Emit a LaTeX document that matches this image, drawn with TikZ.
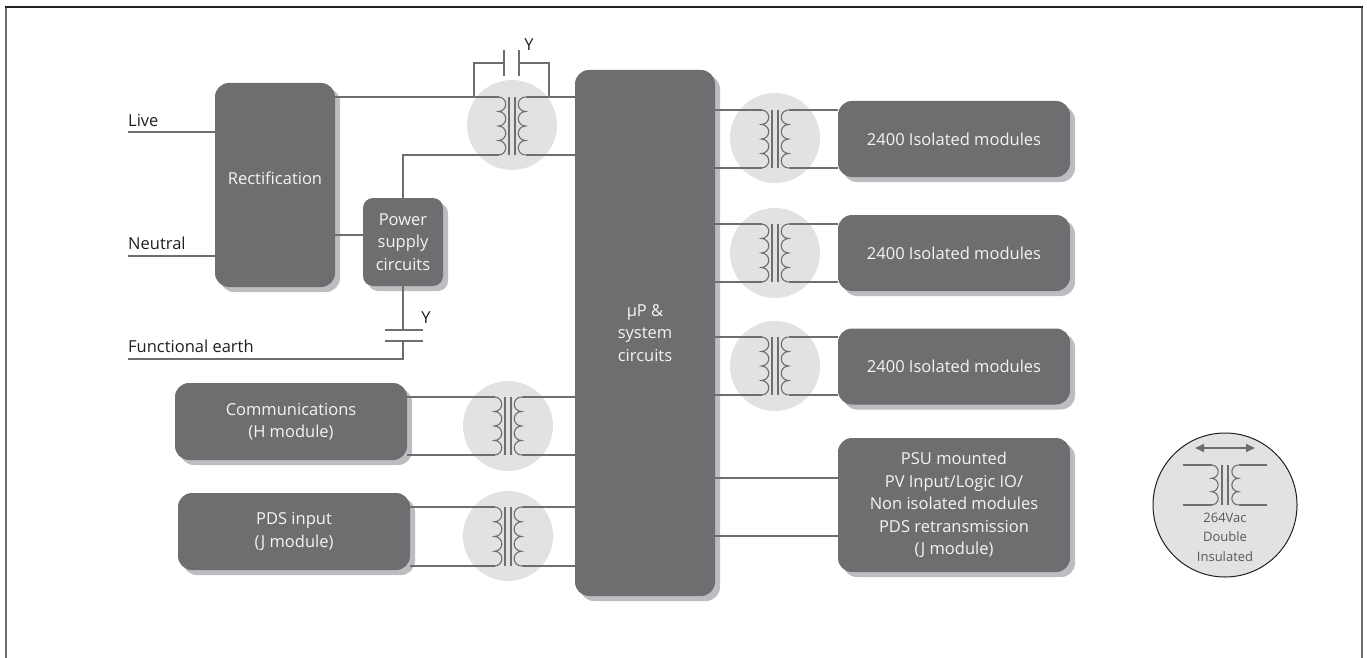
\documentclass[tikz,border=0pt]{standalone}
\usepackage{fontspec}
\setmainfont{Open Sans}
\usetikzlibrary{shadows,arrows.meta}
\definecolor{boxgray}{HTML}{6D6E70}
\definecolor{shadowgray}{HTML}{BCBDC0}
\definecolor{circgray}{HTML}{E1E2E3}
\definecolor{wiregray}{HTML}{6D6E70}
\definecolor{textdark}{HTML}{231F20}
\definecolor{boxtext}{HTML}{F4F4F4}
\definecolor{legtext}{HTML}{58595B}
\newcommand{\xformer}[5]{%
  \pgfmathsetmacro\XFh{(#4-#3)/#5}%
  \pgfmathsetmacro\XFr{\XFh/2}%
  \coordinate (#1-lt) at (#2-13.5,#3);
  \coordinate (#1-lb) at (#2-13.5,#4);
  \coordinate (#1-rt) at (#2+13.5,#3);
  \coordinate (#1-rb) at (#2+13.5,#4);
  \draw[coil] (#1-lt) \foreach \k in {1,...,#5}{ arc[start angle=-90,end angle=90,radius=\XFr] };
  \draw[coil] (#1-rt) \foreach \k in {1,...,#5}{ arc[start angle=270,end angle=90,radius=\XFr] };
  \draw[coil] (#2-3,#3) -- (#2-3,#4) (#2+3,#3) -- (#2+3,#4);
}
\begin{document}
\begin{tikzpicture}[x=1pt,y=-1pt,
  blk/.style={fill=boxgray, rounded corners=14pt,
    general shadow={fill=shadowgray, shadow xshift=5pt, shadow yshift=-5pt},
    text=boxtext, font=\fontsize{16.5}{22.5}\selectfont, align=center, inner sep=0pt},
  wire/.style={draw=wiregray, line width=1.4pt},
  coil/.style={draw=wiregray, line width=1.1pt},
  ring/.style={circle, fill=circgray, minimum size=90pt, inner sep=0pt},
  lbl/.style={text=textdark, font=\fontsize{16.5}{20}\selectfont, inner sep=0pt}]
\useasboundingbox (0,0) rectangle (1367,658);
% frame
\draw[draw=wiregray, line width=2pt] (6,658) -- (6,7);
\draw[draw=wiregray, line width=2pt] (1362,7) -- (1362,658);
\draw[draw=textdark, line width=1.6pt] (5,7) -- (1363,7);

% transformer rings
\node[ring] (r1) at (512,125) {};
\node[ring] (r2) at (508,426) {};
\node[ring] (r3) at (508,536) {};
\node[ring] (r4) at (775,138) {};
\node[ring] (r5) at (775,253) {};
\node[ring] (r6) at (775,366) {};

% boxes
\node[blk, minimum width=120pt, minimum height=204pt, text depth=14pt] (rect) at (275,185) {Rectification};
\node[blk, rounded corners=10pt, minimum width=80pt, minimum height=88pt] (psu) at (403,242) {Power\\supply\\circuits};
\node[blk, minimum width=140pt, minimum height=526pt] (mp) at (645,333) {µP \&\\system\\circuits};
\node[blk, minimum width=232pt, minimum height=77pt] (comms) at (291,421.5) {Communications\\(H module)};
\node[blk, minimum width=232pt, minimum height=77pt] (pds) at (294,531.5) {PDS input\\(J module)};
\node[blk, minimum width=232pt, minimum height=76pt] (mod1) at (954,139) {2400 Isolated modules};
\node[blk, minimum width=232pt, minimum height=76pt] (mod2) at (954,253) {2400 Isolated modules};
\node[blk, minimum width=232pt, minimum height=76pt] (mod3) at (954,366.5) {2400 Isolated modules};
\node[blk, minimum width=232pt, minimum height=134pt] (psum) at (954,505) {PSU mounted\\PV Input/Logic IO/\\Non isolated modules\\PDS retransmission\\(J module)};

% transformers
\xformer{x1}{512}{97}{155}{4}
\xformer{x2}{508}{397}{455}{4}
\xformer{x3}{508}{507}{566}{4}
\xformer{x4}{775}{110}{168}{4}
\xformer{x5}{775}{224}{282}{4}
\xformer{x6}{775}{337}{395}{4}

% mains labels
\node[lbl, anchor=base west] (live) at (128,126) {Live};
\node[lbl, anchor=base west] (neutral) at (128,249) {Neutral};
\node[lbl, anchor=base west] (fearth) at (128,352) {Functional earth};
\coordinate (livew) at (128,132);
\coordinate (neutw) at (128,256);
\coordinate (fearthw) at (128,359);
\draw[wire] (livew) -- (livew -| rect.west);
\draw[wire] (neutw) -- (neutw -| rect.west);

% rect - psu
\draw[wire] (rect.east |- 0,235) -- (psu.west |- 0,235);

% top transformer wiring
\draw[wire] (rect.east |- x1-lt) -- (x1-lt);
\draw[wire] (x1-lb) -| (psu.north);
\draw[wire] (x1-rt) -- (x1-rt -| mp.west);
\draw[wire] (x1-rb) -- (x1-rb -| mp.west);

% top Y capacitor
\coordinate (c1a) at (474,97);
\coordinate (c1b) at (549,97);
\coordinate (c1p) at (504,63);
\coordinate (c1q) at (519,63);
\draw[wire] (c1a) |- (c1p);
\draw[wire] (c1b) |- (c1q);
\draw[wire] (504,50) -- (504,76);
\draw[wire] (519,50) -- (519,76);
\node[lbl] (y1) at (529,45) {Y};

% bottom Y capacitor
\coordinate (c2t) at (403,330);
\coordinate (c2b) at (403,341);
\draw[wire] (psu.south) -- (c2t);
\draw[wire] (385,330) -- (423,330);
\draw[wire] (385,341) -- (423,341);
\draw[wire] (c2b) |- (fearthw);
\node[lbl] (y2) at (426,318) {Y};

% left lower transformers
\draw[wire] (comms.east |- x2-lt) -- (x2-lt);
\draw[wire] (comms.east |- x2-lb) -- (x2-lb);
\draw[wire] (x2-rt) -- (x2-rt -| mp.west);
\draw[wire] (x2-rb) -- (x2-rb -| mp.west);
\draw[wire] (pds.east |- x3-lt) -- (x3-lt);
\draw[wire] (pds.east |- x3-lb) -- (x3-lb);
\draw[wire] (x3-rt) -- (x3-rt -| mp.west);
\draw[wire] (x3-rb) -- (x3-rb -| mp.west);

% right transformers
\foreach \t/\m in {x4/mod1, x5/mod2, x6/mod3}{
  \draw[wire] (mp.east |- \t-lt) -- (\t-lt);
  \draw[wire] (mp.east |- \t-lb) -- (\t-lb);
  \draw[wire] (\t-rt) -- (\t-rt -| \m.west);
  \draw[wire] (\t-rb) -- (\t-rb -| \m.west);
}

% PSU mounted
\draw[wire] (mp.east |- 0,478) -- (psum.west |- 0,478);
\draw[wire] (mp.east |- 0,536) -- (psum.west |- 0,536);

% legend
\node[circle, fill=circgray, draw=textdark, line width=1pt, minimum size=144pt, inner sep=0pt] (leg) at (1225,505) {};
\draw[draw=wiregray, line width=2pt, {Triangle[length=9pt,width=8pt]}-{Triangle[length=9pt,width=8pt]}] (1195,448) -- (1255,448);
\xformer{xl}{1225}{465}{505}{3}
\coordinate (lgl1) at (1183,465);
\coordinate (lgl2) at (1183,505);
\coordinate (lgr1) at (1267,465);
\coordinate (lgr2) at (1267,505);
\draw[wire] (lgl1) -- (xl-lt);
\draw[wire] (lgl2) -- (xl-lb);
\draw[wire] (xl-rt) -- (lgr1);
\draw[wire] (xl-rb) -- (lgr2);
\node[text=legtext, font=\fontsize{13}{19.5}\selectfont, align=center, inner sep=0pt] (legtxt) at (1225,537) {264Vac\\Double\\Insulated};
\end{tikzpicture}
\end{document}
